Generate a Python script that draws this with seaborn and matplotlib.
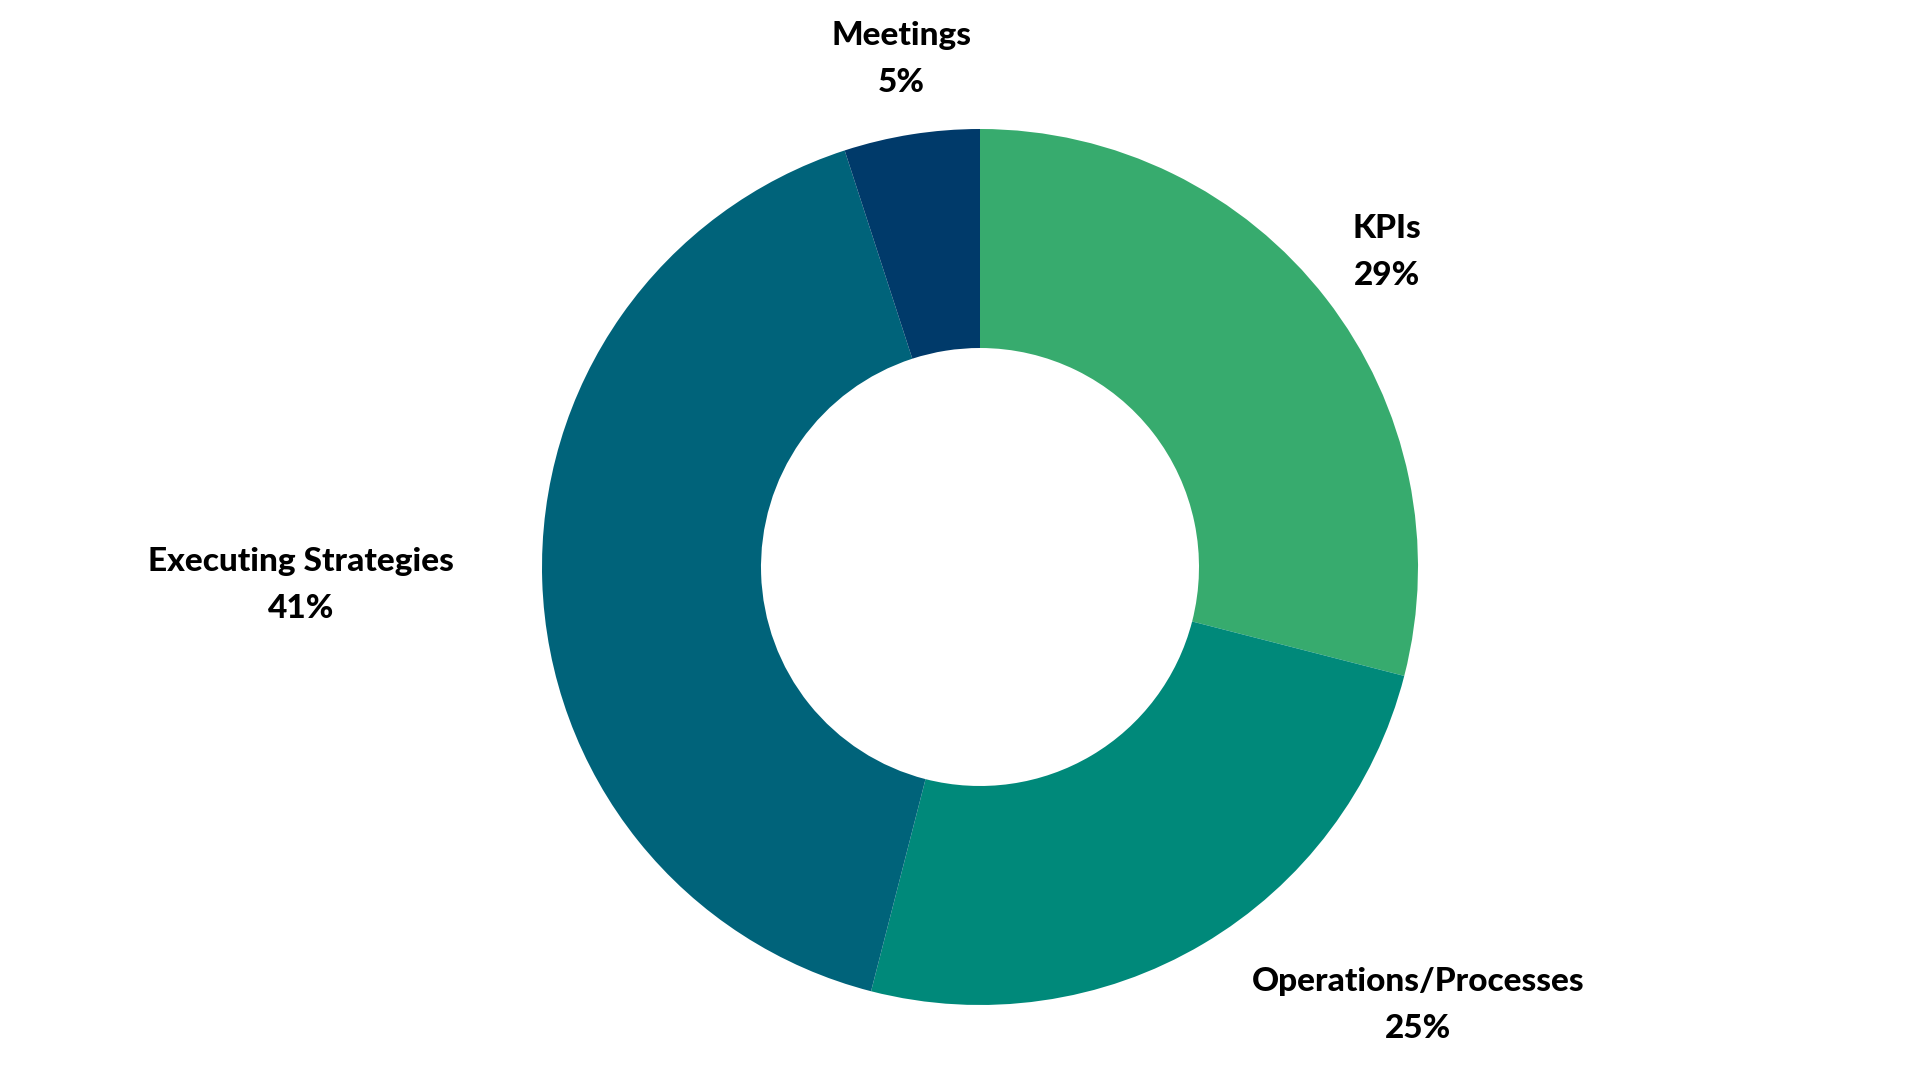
import matplotlib
matplotlib.use("Agg")
import matplotlib.pyplot as plt
import seaborn as sns

# Share of time, clockwise from 12 o'clock
categories = ["KPIs", "Operations/Processes", "Executing Strategies", "Meetings"]
shares = [29, 25, 41, 5]
colors = ["#37AB6E", "#00897A", "#00637A", "#003A6A"]

# label centres in units of the outer radius (hand placed, as in the original)
label_pos = [(0.93, 0.72), (1.0, -1.0), (-1.55, -0.04), (-0.18, 1.16)]

sns.set_style("white")
plt.rcParams['font.family'] = ['Lato', 'DejaVu Sans']

fig = plt.figure(figsize=(19.2, 10.8), dpi=100)
cx, cy, r = 980, 567, 438
ax = fig.add_axes([(cx - r) / 1920, (1080 - cy - r) / 1080, 2 * r / 1920, 2 * r / 1080])

labels = [f"{c}\n{s}%" for c, s in zip(categories, shares)]
wedges, texts = ax.pie(
    shares,
    labels=labels,
    colors=colors,
    startangle=90,
    counterclock=False,
    radius=1.0,
    wedgeprops=dict(width=0.5, linewidth=0),
    textprops=dict(fontsize=24, fontweight='black', color='black'),
)
for t, pos in zip(texts, label_pos):
    t.set_position(pos)
    t.set_horizontalalignment('center')
    t.set_verticalalignment('center')
    t.set_multialignment('center')
    t.set_linespacing(1.75)

ax.set_xlim(-1, 1)
ax.set_ylim(-1, 1)
ax.set_aspect('equal')
ax.axis('off')

fig.savefig("out.png", dpi=100, facecolor='white')
